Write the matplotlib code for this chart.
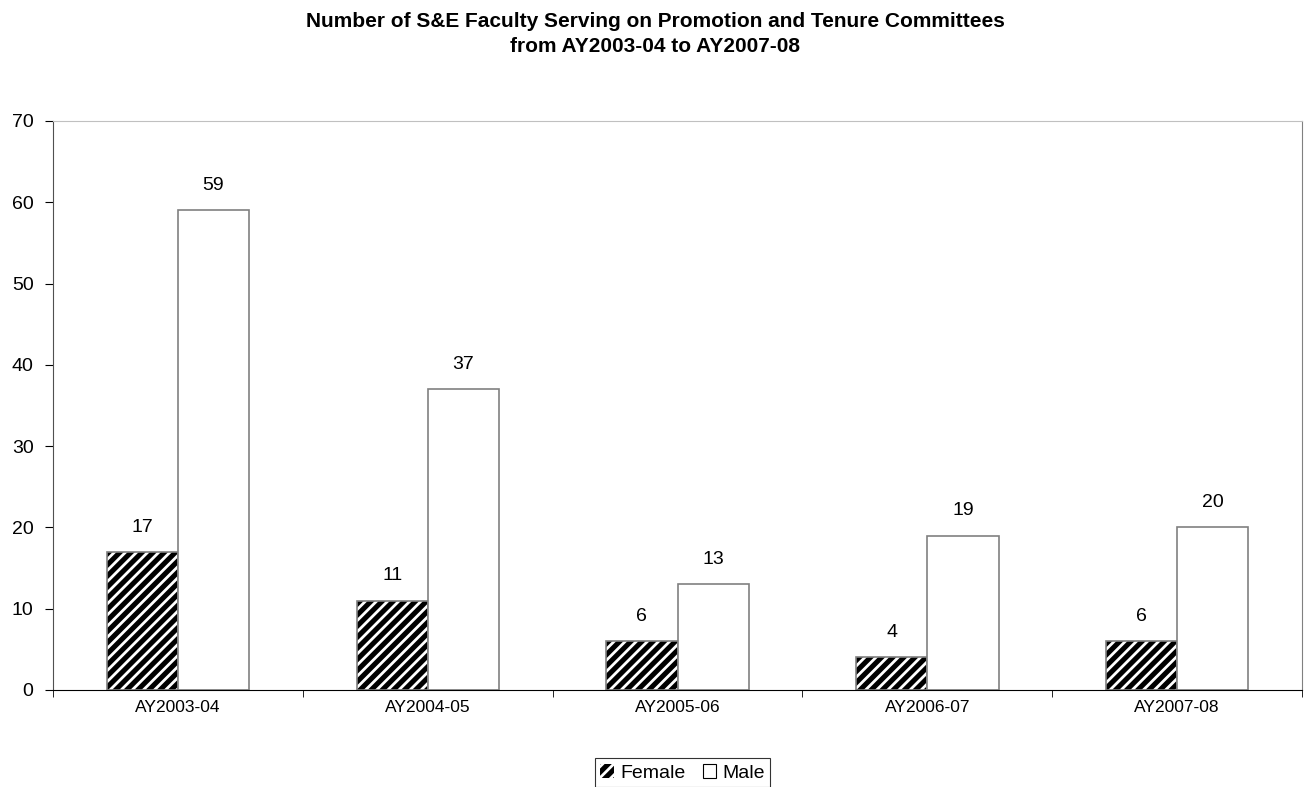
import matplotlib.pyplot as plt
import numpy as np
from matplotlib.patches import Patch

plt.rcParams['font.family'] = ['Liberation Sans', 'DejaVu Sans']
plt.rcParams['hatch.linewidth'] = 2.0

years = ['AY2003-04', 'AY2004-05', 'AY2005-06', 'AY2006-07', 'AY2007-08']
female = [17, 11, 6, 4, 6]
male = [59, 37, 13, 19, 20]

fig = plt.figure(figsize=(13.1, 7.87), dpi=100)
ax = fig.add_axes([0.0405, 0.1233, 0.9534, 0.723])

x = np.arange(len(years))
w = 0.285

# female: black fill with white diagonal stripes, grey outline on top
ax.bar(x - w / 2, female, w, color='black', edgecolor='white', linewidth=0, hatch='///')
ax.bar(x - w / 2, female, w, fill=False, edgecolor='#808080', linewidth=1.2)
ax.bar(x + w / 2, male, w, color='white', edgecolor='#808080', linewidth=1.2)

for i in range(len(years)):
    ax.text(x[i] - w / 2, female[i] + 2, str(female[i]), ha='center', va='bottom', fontsize=14)
    ax.text(x[i] + w / 2, male[i] + 2, str(male[i]), ha='center', va='bottom', fontsize=14)

ax.set_xlim(-0.5, len(years) - 0.5)
ax.set_ylim(0, 70)
ax.set_yticks(range(0, 71, 10))
ax.set_xticks(x)
ax.set_xticklabels(years, fontsize=12.5)
ax.set_xticks(np.arange(-0.5, len(years), 1), minor=True)
ax.tick_params(axis='x', which='major', length=0, pad=7)
ax.tick_params(axis='x', which='minor', length=5, direction='out', color='black')
ax.tick_params(axis='y', labelsize=14, length=6, color='black', pad=8)

ax.spines['top'].set_color('#c0c0c0')
ax.spines['right'].set_color('#808080')
ax.spines['left'].set_color('#505050')
ax.spines['bottom'].set_color('black')

fig.text(0.5, 0.973, 'Number of S&E Faculty Serving on Promotion and Tenure Committees',
         ha='center', va='center', fontsize=15, fontweight='bold')
fig.text(0.5, 0.941, 'from AY2003-04 to AY2007-08',
         ha='center', va='center', fontsize=15, fontweight='bold')

handles = [Patch(facecolor='black', edgecolor='white', linewidth=0, hatch='///'),
           Patch(facecolor='white', edgecolor='black', linewidth=0.8)]
leg = fig.legend(handles, ['Female', 'Male'], loc='center', bbox_to_anchor=(0.521, 0.018),
                 ncol=2, fontsize=14, frameon=True, fancybox=False, handlelength=0.7,
                 handleheight=0.7, handletextpad=0.3, columnspacing=0.9, borderpad=0.3,
                 edgecolor='black')
leg.get_frame().set_linewidth(0.8)

fig.savefig('out.png', dpi=100)
